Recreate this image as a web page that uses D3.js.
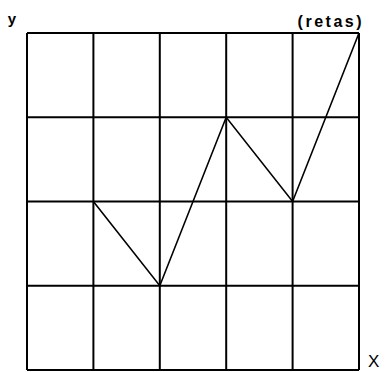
<!DOCTYPE html>
<html>
<head>
<meta charset="utf-8">
<script src="https://cdn.jsdelivr.net/npm/d3@7"></script>
<style>
  body { margin: 0; background: #fff; }
  text { font-family: "Liberation Sans", Arial, sans-serif; }
</style>
</head>
<body>
<div id="chart"></div>
<script>
// grid divisions and the broken line points
var xTicks = [0, 1, 2, 3, 4, 5];
var yTicks = [0, 1, 2, 3, 4];
var xs = [1, 2, 3, 4, 5];
var ys = [2, 1, 3, 2, 4];

var margin = {top: 33, right: 27, bottom: 2, left: 27},
    width = 386 - margin.left - margin.right,
    height = 372 - margin.top - margin.bottom;

var svg = d3.select("#chart").append("svg")
    .attr("width", 386)
    .attr("height", 372);

var g = svg.append("g")
    .attr("transform", "translate(" + margin.left + "," + margin.top + ")");

var x = d3.scaleLinear().domain([0, 5]).range([0, width]);
var y = d3.scaleLinear().domain([0, 4]).range([height, 0]);

// grid lines
g.selectAll(".vline")
    .data(xTicks)
    .enter().append("line")
    .attr("x1", function(d) { return x(d); })
    .attr("x2", function(d) { return x(d); })
    .attr("y1", 0)
    .attr("y2", height)
    .attr("stroke", "#000")
    .attr("stroke-width", 2);

g.selectAll(".hline")
    .data(yTicks)
    .enter().append("line")
    .attr("x1", 0)
    .attr("x2", width)
    .attr("y1", function(d) { return y(d); })
    .attr("y2", function(d) { return y(d); })
    .attr("stroke", "#000")
    .attr("stroke-width", 2);

// the line
var pts = xs.map(function(v, i) { return [v, ys[i]]; });
g.append("path")
    .datum(pts)
    .attr("fill", "none")
    .attr("stroke", "#000")
    .attr("stroke-width", 1.6)
    .attr("d", d3.line()
        .x(function(d) { return x(d[0]); })
        .y(function(d) { return y(d[1]); }));

// labels
svg.append("text")
    .attr("x", 12)
    .attr("y", 24)
    .attr("text-anchor", "middle")
    .style("font-size", "15px")
    .style("font-weight", "bold")
    .text("y");

svg.append("text")
    .attr("x", 364)
    .attr("y", 27)
    .attr("text-anchor", "end")
    .style("font-size", "16px")
    .style("font-weight", "bold")
    .style("letter-spacing", "2.5px")
    .text("(retas)");

svg.append("text")
    .attr("x", 368)
    .attr("y", 367)
    .style("font-size", "17px")
    .text("X");
</script>
</body>
</html>
